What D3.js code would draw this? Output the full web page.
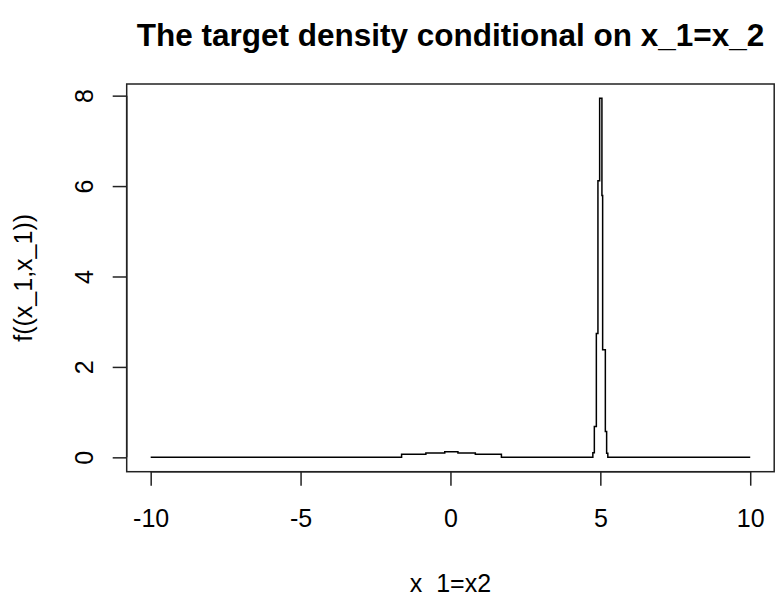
<!DOCTYPE html>
<html>
<head>
<meta charset="utf-8">
<style>
  body { margin: 0; background: #fff; }
  svg { display: block; font-family: "Liberation Sans", Arial, sans-serif; }
</style>
</head>
<body>
<svg width="775" height="594"></svg>
<script src="https://d3js.org/d3.v7.min.js"></script>
<script>
// step breakpoints (x) and density level starting at each breakpoint
const stepX = [-10, -1.63, -0.82, -0.19, 0.25, 0.83, 1.70, 4.75, 4.80, 4.867, 4.92, 4.977, 5.053, 5.077, 5.167, 5.21, 5.25, 10];
const stepY = [0, 0.066, 0.095, 0.124, 0.095, 0.066, 0, 0.1, 0.68, 2.74, 6.12, 7.94, 5.79, 2.38, 0.57, 0.09, 0, 0];
const xTicks = [-10, -5, 0, 5, 10];
const yTicks = [0, 2, 4, 6, 8];

const svg = d3.select("svg");
const plot = { left: 126.7, right: 774.2, top: 84, bottom: 471.7 };

// R style 4% padding on both ends
const xPad = 0.04 * (d3.max(stepX) - d3.min(stepX));
const yPad = 0.04 * (d3.max(stepY) - d3.min(stepY));
const x = d3.scaleLinear()
    .domain([d3.min(stepX) - xPad, d3.max(stepX) + xPad])
    .range([plot.left, plot.right]);
const y = d3.scaleLinear()
    .domain([d3.min(stepY) - yPad, d3.max(stepY) + yPad])
    .range([plot.bottom, plot.top]);

const pts = stepX.map((d, i) => [d, stepY[i]]);
const line = d3.line()
    .x(d => x(d[0]))
    .y(d => y(d[1]))
    .curve(d3.curveStepAfter);

svg.append("path")
    .datum(pts)
    .attr("d", line)
    .attr("fill", "none")
    .attr("stroke", "#000")
    .attr("stroke-width", 1.5);

// box
svg.append("rect")
    .attr("x", plot.left)
    .attr("y", plot.top)
    .attr("width", plot.right - plot.left)
    .attr("height", plot.bottom - plot.top)
    .attr("fill", "none")
    .attr("stroke", "#222")
    .attr("stroke-width", 1.5);

// x axis
const xAxis = svg.append("g")
    .attr("transform", `translate(0,${plot.bottom})`)
    .call(d3.axisBottom(x).tickValues(xTicks).tickSize(14).tickSizeOuter(0).tickPadding(24)
        .tickFormat(d => d < 0 ? "-" + Math.abs(d) : d));
xAxis.select(".domain")
    .attr("d", `M${x(-10)},0H${x(10)}`)
    .attr("stroke", "#222").attr("stroke-width", 1.5);
xAxis.selectAll(".tick line").attr("stroke", "#222").attr("stroke-width", 1.5);
xAxis.selectAll(".tick text")
    .attr("font-size", 25).attr("fill", "#000")
    .attr("font-family", "Liberation Sans, Arial, sans-serif");

// y axis
const yAxis = svg.append("g")
    .attr("transform", `translate(${plot.left},0)`)
    .call(d3.axisLeft(y).tickValues(yTicks).tickSize(14).tickSizeOuter(0).tickFormat(d => d));
yAxis.select(".domain")
    .attr("d", `M0,${y(0)}V${y(8)}`)
    .attr("stroke", "#222").attr("stroke-width", 1.5);
yAxis.selectAll(".tick line").attr("stroke", "#222").attr("stroke-width", 1.5);
yAxis.selectAll(".tick text")
    .attr("x", null).attr("dy", null)
    .attr("text-anchor", "middle")
    .attr("transform", "translate(-33.5,0) rotate(-90)")
    .attr("font-size", 25).attr("fill", "#000")
    .attr("font-family", "Liberation Sans, Arial, sans-serif");

// title and axis labels
const cx = (plot.left + plot.right) / 2;
svg.append("text")
    .attr("x", cx).attr("y", 46)
    .attr("text-anchor", "middle")
    .attr("font-size", 31.5).attr("font-weight", "bold")
    .text("The target density conditional on x_1=x_2");

svg.append("text")
    .attr("x", cx).attr("y", 591.5)
    .attr("text-anchor", "middle")
    .attr("font-size", 25)
    .text("x_1=x2");

svg.append("text")
    .attr("transform", `translate(31.5,${(plot.top + plot.bottom) / 2}) rotate(-90)`)
    .attr("text-anchor", "middle")
    .attr("font-size", 25)
    .text("f((x_1,x_1))");
</script>
</body>
</html>
